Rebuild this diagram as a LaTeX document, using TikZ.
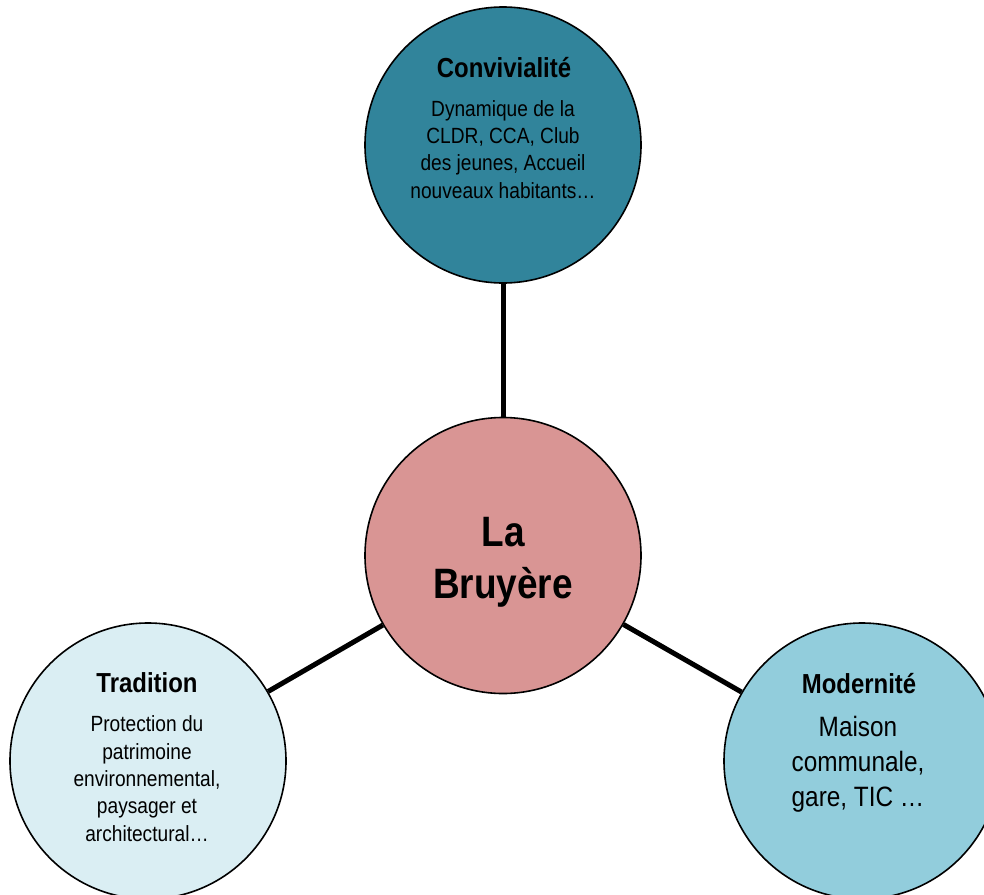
\documentclass[tikz,border=0pt]{standalone}
\usepackage{fontspec}
\setmainfont{Liberation Sans}[FakeStretch=0.87]
\definecolor{convfill}{RGB}{49,132,155}
\definecolor{labfill}{RGB}{217,149,148}
\definecolor{tradfill}{RGB}{218,238,243}
\definecolor{modfill}{RGB}{146,205,220}
\tikzset{
  bubble/.style={circle, draw=black, line width=1.6pt, minimum size=276pt, inner sep=0pt},
  link/.style={draw=black, line width=5pt},
  titletext/.style={anchor=base, inner sep=0pt, font=\fontsize{27.5}{30}\selectfont\bfseries},
  bodytext/.style={anchor=base, inner sep=0pt, align=center, font=\fontsize{22}{27.3}\selectfont},
  bigbody/.style={anchor=base, inner sep=0pt, align=center, font=\fontsize{28}{35}\selectfont},
  centertext/.style={anchor=base, inner sep=0pt, align=center, font=\fontsize{42.5}{52}\selectfont\bfseries}
}
\begin{document}
\begin{tikzpicture}[x=1pt,y=-1pt]
\useasboundingbox (0,0) rectangle (984,894);
\fill[white] (0,0) rectangle (984,894);
\clip (0,0) rectangle (984,894);
\node[bubble, fill=convfill] (conv) at (503,145) {};
\node[bubble, fill=labfill] (lab) at (503,555.5) {};
\node[bubble, fill=tradfill] (trad) at (148,761) {};
\node[bubble, fill=modfill] (mod) at (862,761) {};
\draw[link] (conv) -- (lab);
\draw[link] (trad) -- (lab);
\draw[link] (mod) -- (lab);
\node[titletext] (conv-t) at (504,77) {Convivialité};
\node[bodytext] (conv-b) at (503,198) {Dynamique de la\\CLDR, CCA, Club\\des jeunes, Accueil\\nouveaux habitants…};
\node[centertext] (lab-t) at (503,598) {La\\Bruyère};
\node[titletext] (trad-t) at (147,692) {Tradition};
\node[bodytext] (trad-b) at (147,841) {Protection du\\patrimoine\\environnemental,\\paysager et\\architectural…};
\node[titletext] (mod-t) at (859,693) {Modernité};
\node[bigbody] (mod-b) at (858,806) {Maison\\communale,\\gare, TIC …};
\end{tikzpicture}
\end{document}
